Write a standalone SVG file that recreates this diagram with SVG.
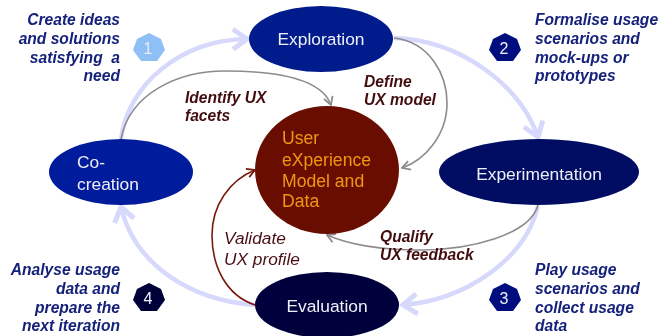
<svg xmlns="http://www.w3.org/2000/svg" width="661" height="336" viewBox="0 0 661 336">
<style>
text{font-family:"Liberation Sans",Arial,sans-serif}
.n{font-size:17.4px;fill:#eef0f8;text-anchor:middle}
.cc{font-size:17.4px;fill:#eef0f8}
.c{font-size:17.6px;fill:#f0960f}
.s{font-size:15.6px;font-weight:bold;font-style:italic;fill:#14207a}
.e{text-anchor:end}
.l{font-size:15.6px;font-weight:bold;font-style:italic;fill:#430c10}
.v{font-size:17.3px;font-style:italic;fill:#4a1014}
.d{font-size:16px;fill:#eef0f8;text-anchor:middle}
.b{fill:none;stroke:#d6d9fb;stroke-width:4.5}
.g{fill:none;stroke:#8f8a90;stroke-width:1.6}
.r{fill:none;stroke:#7a1a10;stroke-width:1.6}
</style>
<defs>
<filter id="soft" x="-2%" y="-2%" width="104%" height="104%"><feGaussianBlur stdDeviation="0.45"/></filter>
<marker id="ah" viewBox="0 0 24 24" refX="20" refY="12" markerWidth="24" markerHeight="24" markerUnits="userSpaceOnUse" orient="auto"><path d="M6 2 L20 12 L6 22" fill="none" stroke="#d6d9fb" stroke-width="5"/></marker>
<marker id="ag" viewBox="0 0 12 12" refX="11" refY="6" markerWidth="12" markerHeight="12" markerUnits="userSpaceOnUse" orient="auto"><path d="M3 1.5 L11 6 L3 10.5" fill="none" stroke="#8f8a90" stroke-width="1.8"/></marker>
<marker id="ar" viewBox="0 0 12 12" refX="11" refY="6" markerWidth="12" markerHeight="12" markerUnits="userSpaceOnUse" orient="auto"><path d="M3 1.5 L11 6 L3 10.5" fill="none" stroke="#7a1a10" stroke-width="1.8"/></marker>
</defs>
<rect width="661" height="336" fill="#fff"/>
<g filter="url(#soft)">
<g id="connectors">
<path class="b" marker-end="url(#ah)" d="M121 139 C128 85 180 40 247 39"/>
<path class="b" marker-end="url(#ah)" d="M394 38 C460 40 520 85 538 137"/>
<path class="b" marker-end="url(#ah)" d="M538 206 C525 260 465 300 403 305"/>
<path class="b" marker-end="url(#ah)" d="M255 305 C190 300 135 265 121 207"/>
<path class="g" marker-end="url(#ag)" d="M121 139 C130 92 180 71 225 71 C280 71 322 80 331 105"/>
<path class="g" marker-end="url(#ag)" d="M394 38 C430 42 447 75 447 103 C447 135 425 160 402 168"/>
<path class="g" marker-end="url(#ag)" d="M538 205 C530 235 470 250 420 250 C385 250 350 245 327 235"/>
<path class="r" marker-end="url(#ar)" d="M255 305 C225 295 212 265 212 235 C212 205 230 180 255 170"/>
</g>
<g id="exploration"><ellipse cx="321" cy="39" rx="72" ry="33" fill="#001a8c"/><text class="n" x="321" y="45">Exploration</text></g>
<g id="co-creation"><ellipse cx="121" cy="172" rx="72" ry="33" fill="#001a9c"/><text class="cc" x="77" y="168">Co-</text><text class="cc" x="77" y="190">creation</text></g>
<g id="experimentation"><ellipse cx="539" cy="172" rx="100" ry="33" fill="#000b62"/><text class="n" x="539" y="180">Experimentation</text></g>
<g id="evaluation"><ellipse cx="327" cy="305" rx="72" ry="33" fill="#00003c"/><text class="n" x="327" y="312">Evaluation</text></g>
<g id="model"><ellipse cx="327" cy="170" rx="72" ry="64" fill="#691006"/>
<text class="c" x="282" y="144">User</text><text class="c" x="282" y="166">eXperience</text><text class="c" x="282" y="187">Model and</text><text class="c" x="282" y="207">Data</text></g>
<g id="step1"><polygon points="149,33 161,39 165,50 157,61 141,61 133,50 137,39" fill="#8fc0f5"/><text class="d" x="148" y="54" fill-opacity=".9">1</text></g>
<g id="step2"><polygon points="505,33 517,39 521,50 513,61 497,61 489,50 493,39" fill="#00107e"/><text class="d" x="504" y="54">2</text></g>
<g id="step3"><polygon points="505,283 517,289 521,300 513,311 497,311 489,300 493,289" fill="#00107e"/><text class="d" x="504" y="304">3</text></g>
<g id="step4"><polygon points="149,283 161,289 165,300 157,311 141,311 133,300 137,289" fill="#000038"/><text class="d" x="148" y="304">4</text></g>
<g id="notes">
<text class="s e" x="120" y="25">Create ideas</text><text class="s e" x="120" y="44">and solutions</text><text class="s e" x="120" y="63" xml:space="preserve">satisfying  a</text><text class="s e" x="120" y="81">need</text>
<text class="s" x="535" y="25">Formalise usage</text><text class="s" x="535" y="44">scenarios and</text><text class="s" x="535" y="63">mock-ups or</text><text class="s" x="535" y="81">prototypes</text>
<text class="s e" x="120" y="275">Analyse usage</text><text class="s e" x="120" y="294">data and</text><text class="s e" x="120" y="313">prepare the</text><text class="s e" x="120" y="331">next iteration</text>
<text class="s" x="535" y="275">Play usage</text><text class="s" x="535" y="294">scenarios and</text><text class="s" x="535" y="313">collect usage</text><text class="s" x="535" y="331">data</text>
<text class="l" x="185" y="103">Identify UX</text><text class="l" x="185" y="121">facets</text>
<text class="l" x="364" y="87">Define</text><text class="l" x="364" y="105">UX model</text>
<text class="l" x="380" y="242">Qualify</text><text class="l" x="380" y="260">UX feedback</text>
<text class="v" x="224" y="244">Validate</text><text class="v" x="224" y="265">UX profile</text>
</g>
</g>
</svg>
